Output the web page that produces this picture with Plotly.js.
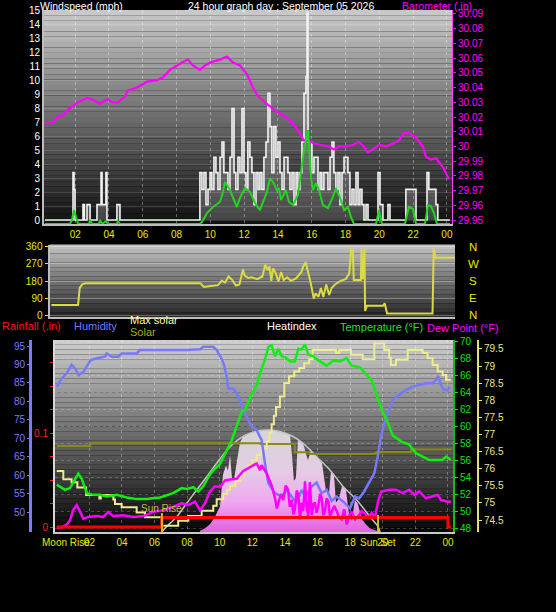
<!DOCTYPE html>
<html><head><meta charset="utf-8">
<script src="https://cdn.plot.ly/plotly-3.0.1.min.js"></script>
<style>html,body{margin:0;padding:0;background:#000;overflow:hidden}#chart{width:556px;height:612px}</style>
</head><body><div id="chart"></div>
<script>
// ================= DATA (hours of the day) =================
const hourTicks = [2,4,6,8,10,12,14,16,18,20,22,24];
const hourTickText = ['02','04','06','08','10','12','14','16','18','20','22','00'];
const humidityTicks = [50,55,60,65,70,75,80,85,90,95];

// Top panel: barometer (in), gust & average wind speed (mph)
const baroReadings = [[0.21,30.016],[0.69,30.016],[0.98,30.021],[1.28,30.021],[1.57,30.025],[1.81,30.027],[2.17,30.030],[2.70,30.033],[3.00,30.032],[3.47,30.029],[3.88,30.032],[4.24,30.030],[4.53,30.030],[4.95,30.034],[5.12,30.038],[5.66,30.040],[6.25,30.044],[6.84,30.045],[7.20,30.047],[7.61,30.052],[8.02,30.055],[8.32,30.057],[8.67,30.059],[8.97,30.055],[9.38,30.052],[9.68,30.055],[9.98,30.057],[10.57,30.059],[10.98,30.061],[11.34,30.057],[11.75,30.055],[12.17,30.049],[12.52,30.040],[12.82,30.034],[13.23,30.030],[13.65,30.026],[14.00,30.023],[14.47,30.020],[14.77,30.017],[15.07,30.013],[15.36,30.008],[15.54,30.004],[15.83,30.004],[16.13,30.002],[16.54,30.001],[17.02,30.000],[17.31,29.998],[17.61,30.000],[18.02,30.000],[18.43,30.001],[18.79,30.003],[19.08,30.000],[19.32,29.996],[19.62,29.998],[19.97,30.001],[20.39,30.000],[20.80,30.002],[21.16,30.004],[21.45,30.009],[21.75,30.009],[22.16,30.006],[22.58,30.000],[22.76,29.993],[23.05,29.991],[23.35,29.992],[23.53,29.989],[23.82,29.985],[24.06,29.979],[24.12,29.978]];

const gustReadings = [[0.21,0],[1.81,0],[1.87,3.4],[1.93,2.2],[1.99,0],[2.46,1.1],[2.55,0],[2.70,1.1],[2.88,0],[3.29,1.1],[3.53,3.4],[3.59,1.1],[3.82,3.4],[3.88,0],[4.47,1.1],[4.65,0],
[9.38,3.4],[9.50,2.2],[9.62,3.4],[9.74,1.1],[9.86,2.2],[9.98,3.4],[10.09,2.2],[10.21,4.5],[10.33,3.4],[10.45,2.2],[10.57,4.5],[10.69,5.6],[10.80,3.4],[10.92,3.4],[11.04,2.2],[11.16,4.5],[11.28,8.0],[11.40,3.4],[11.51,2.2],[11.63,4.5],[11.75,3.4],[11.87,8.0],[11.99,3.4],[12.11,2.2],[12.22,5.6],[12.34,4.5],[12.46,3.4],[12.58,1.1],[12.70,3.4],[12.82,2.2],[12.93,3.4],[13.05,2.2],[13.17,4.5],[13.29,5.6],[13.41,9.1],[13.53,6.7],[13.64,3.4],[13.76,6.7],[13.88,4.5],[14.00,5.6],[14.12,3.4],[14.24,2.2],[14.36,4.5],[14.47,4.5],[14.59,3.4],[14.71,2.2],[14.83,3.4],[14.95,1.1],[15.07,3.4],[15.18,2.2],[15.30,3.4],[15.42,5.6],[15.54,9.1],[15.66,10.3],[15.72,14.9],[15.78,5.6],[15.89,5.6],[16.01,3.4],[16.13,4.5],[16.25,4.5],[16.37,2.2],[16.49,3.4],[16.60,2.2],[16.72,3.4],[16.84,3.4],[16.96,2.2],[17.08,4.5],[17.20,5.6],[17.31,3.4],[17.43,2.2],[17.55,3.4],[17.67,1.1],[17.79,3.4],[17.91,4.5],[18.02,4.5],[18.14,3.4],[18.26,1.1],[18.38,2.2],[18.50,1.1],[18.62,3.4],[18.74,1.1],[18.85,2.2],[18.97,1.1],[19.09,0],[19.21,1.1],[19.33,0],[19.92,3.4],[20.04,1.1],[20.21,0],[20.51,1.1],[20.63,0],[21.57,2.2],[21.93,2.2],[22.17,0],[22.82,3.4],[22.93,2.2],[23.35,1.1],[23.46,0],[24.18,0]];

const windAvgReadings = [[0.21,0],[1.69,0],[1.81,0.3],[1.93,1.0],[2.05,0.5],[2.17,0],[2.82,0],[2.88,0.3],[2.99,0],[3.41,0],[3.47,0.3],[3.59,0],[3.82,0.2],[3.94,0],[4.47,0],[4.53,0.2],[4.65,0],[9.38,0],[9.50,0.14],[9.80,0.79],[10.15,1.22],[10.57,1.58],[10.75,2.30],[10.86,3.02],[11.16,2.44],[11.34,1.94],[11.57,1.22],[11.75,1.87],[12.05,2.58],[12.34,2.30],[12.64,1.51],[12.93,1.0],[13.11,1.51],[13.35,2.30],[13.53,3.30],[13.70,3.02],[13.94,2.44],[14.06,2.58],[14.18,1.72],[14.47,2.44],[14.65,1.58],[14.89,1.36],[15.18,2.08],[15.36,3.52],[15.54,5.31],[15.78,6.75],[15.83,5.81],[15.95,3.37],[16.07,2.44],[16.25,2.94],[16.43,2.44],[16.66,1.36],[16.96,1.15],[17.25,1.94],[17.43,2.58],[17.73,1.72],[17.91,1.0],[18.14,1.22],[18.32,0.5],[18.50,0],[19.80,0],[19.98,1.0],[20.15,0],[21.51,0],[21.75,1.22],[21.99,1.08],[22.17,0],[22.70,0],[22.88,1.36],[23.05,1.29],[23.23,0.79],[23.41,0],[24.18,0]];

// Middle panel: wind direction (degrees)
const windDirReadings = [[0.28,53],[1.86,53],[1.96,143],[2.11,162],[2.28,168],[9.10,168],[9.31,149],[9.83,153],[10.15,158],[10.36,181],[10.56,172],[10.77,204],[10.99,185],[11.20,156],[11.41,162],[11.62,241],[11.72,209],[11.93,196],[12.14,200],[12.46,190],[12.77,204],[12.94,266],[13.08,238],[13.19,256],[13.30,181],[13.40,247],[13.57,219],[13.72,177],[13.88,228],[14.03,185],[14.24,200],[14.45,181],[14.76,194],[15.08,228],[15.18,256],[15.33,279],[15.46,238],[15.60,181],[15.71,134],[15.81,87],[15.92,115],[16.09,96],[16.23,143],[16.38,96],[16.55,162],[16.72,106],[16.87,143],[17.07,162],[17.39,181],[17.70,190],[17.91,219],[18.02,347],[18.12,341],[18.18,185],[18.60,185],[18.64,351],[18.71,190],[18.81,351],[18.85,21],[18.96,49],[19.91,49],[20.01,62],[20.15,8],[22.84,8],[22.91,351],[23.02,303],[24.17,303]];

// Bottom panel
const humidityReadings = [[0.0,84.0],[0.30,86.2],[0.61,87.6],[0.91,89.9],[1.12,88.9],[1.36,87.1],[1.63,88.0],[1.87,89.6],[2.08,91.2],[2.45,91.7],[2.96,92.1],[3.06,93.0],[3.37,92.1],[3.77,92.1],[3.98,93.0],[4.90,93.0],[5.10,93.9],[7.97,93.9],[8.79,94.1],[8.99,94.8],[9.60,94.8],[9.81,93.9],[10.12,91.5],[10.26,89.9],[10.42,86.7],[10.52,83.5],[10.83,83.5],[11.04,82.2],[11.24,80.4],[11.44,77.7],[11.65,75.8],[11.96,73.1],[12.26,72.2],[12.57,69.5],[12.77,63.2],[12.98,57.8],[13.39,55.1],[13.80,54.2],[14.10,56.0],[14.41,54.2],[14.72,52.4],[15.02,56.0],[15.23,54.2],[15.64,56.9],[15.94,58.0],[16.25,55.1],[16.56,56.0],[16.87,53.0],[17.17,54.2],[17.58,52.8],[17.99,51.0],[18.30,54.2],[18.55,53.7],[18.85,55.5],[19.27,58.7],[19.48,60.5],[19.69,65.0],[19.89,70.4],[20.20,75.8],[20.40,77.7],[20.61,80.4],[21.01,81.7],[21.42,83.1],[21.83,84.0],[22.24,84.4],[22.65,84.9],[23.06,84.9],[23.26,85.8],[23.40,86.9],[23.57,84.4],[23.77,83.1],[23.98,83.1],[24.12,84.0]];

const temperatureReadings = [[0.0,53.1],[0.50,52.5],[0.81,52.7],[1.12,53.8],[1.32,54.4],[1.53,53.8],[1.84,52.1],[2.24,51.9],[2.65,51.9],[3.06,51.7],[3.68,51.9],[4.29,51.6],[4.90,51.4],[5.51,51.4],[6.33,51.6],[7.15,52.1],[7.66,52.7],[7.97,52.6],[8.38,52.8],[8.68,52.3],[8.99,52.9],[9.30,54.0],[9.60,54.8],[10.01,55.5],[10.42,57.2],[10.73,58.3],[11.04,60.0],[11.35,61.7],[11.55,61.9],[11.96,63.8],[12.26,64.8],[12.47,66.2],[12.77,67.8],[12.98,69.3],[13.18,69.5],[13.39,68.2],[13.59,69.1],[13.80,68.2],[14.10,68.0],[14.31,67.6],[14.61,67.6],[14.82,69.1],[15.02,69.0],[15.23,69.6],[15.43,68.4],[15.74,68.2],[16.15,67.6],[16.56,67.1],[16.97,67.7],[17.37,67.6],[17.78,68.0],[18.09,67.1],[18.60,66.9],[18.91,66.2],[19.32,65.4],[19.63,63.6],[19.93,61.9],[20.25,60.7],[20.40,59.9],[20.61,58.9],[21.12,58.2],[21.63,57.8],[22.04,56.8],[22.45,56.4],[22.86,56.0],[23.26,56.0],[23.67,56.0],[23.88,56.4],[24.18,56.0]];

const dewPointReadings = [[0.0,48.0],[0.30,48.1],[0.61,48.4],[0.81,48.9],[1.00,50.1],[1.22,50.7],[1.38,50.1],[1.63,49.1],[1.93,49.3],[2.45,49.4],[2.85,49.3],[3.16,49.9],[3.47,49.4],[4.08,49.5],[4.69,49.3],[5.31,49.4],[5.92,49.9],[6.53,50.1],[7.15,50.5],[7.66,50.9],[8.07,50.7],[8.48,51.1],[8.79,50.1],[9.09,50.9],[9.40,52.3],[9.71,52.9],[10.01,52.8],[10.32,53.6],[10.63,53.7],[11.04,53.8],[11.44,54.7],[11.86,55.2],[12.26,55.6],[12.47,54.8],[12.57,55.4],[12.88,54.4],[13.18,53.0],[13.39,51.5],[13.50,50.3],[13.59,50.9],[13.75,52.0],[13.90,51.3],[14.05,53.0],[14.19,52.5],[14.30,50.5],[14.41,51.3],[14.52,49.6],[14.61,50.2],[14.72,52.4],[14.82,52.0],[14.92,49.0],[15.02,51.0],[15.12,50.0],[15.23,53.5],[15.33,50.5],[15.43,49.4],[15.53,53.4],[15.64,49.5],[15.74,50.8],[15.84,51.0],[15.94,49.8],[16.04,50.5],[16.15,52.0],[16.25,51.5],[16.35,49.5],[16.45,50.0],[16.56,51.5],[16.66,51.1],[16.76,49.4],[16.87,49.9],[17.02,50.6],[17.17,50.0],[17.33,49.2],[17.48,49.0],[17.63,50.2],[17.79,48.4],[17.94,49.5],[18.09,49.9],[18.30,49.0],[18.50,49.4],[18.70,50.0],[18.91,49.7],[19.10,49.2],[19.32,49.8],[19.53,49.3],[19.73,51.3],[19.90,52.3],[20.40,52.5],[20.81,52.5],[21.22,52.1],[21.63,52.5],[21.94,51.9],[22.24,52.3],[22.65,51.5],[23.06,51.7],[23.37,51.9],[23.57,51.3],[23.98,51.1],[24.18,51.1]];

const heatIndexReadings = [[0.0,75.93],[0.40,75.69],[0.91,75.6],[1.26,75.45],[1.80,75.23],[2.61,75.13],[2.70,75.23],[3.47,75.1],[3.57,74.97],[3.98,74.87],[4.90,74.72],[5.41,74.58],[6.44,74.33],[7.45,74.48],[8.07,74.62],[8.89,74.77],[9.60,74.92],[9.81,75.11],[10.21,75.26],[10.45,75.38],[10.63,75.5],[10.95,75.65],[11.24,75.79],[11.50,75.95],[11.75,76.1],[12.00,76.25],[12.26,76.4],[12.55,76.6],[12.88,76.8],[13.05,77.05],[13.18,77.3],[13.32,77.55],[13.45,77.8],[13.69,78.11],[13.96,78.5],[14.25,78.7],[14.57,78.84],[14.88,78.94],[15.18,79.08],[15.49,79.2],[15.70,79.47],[17.13,79.38],[17.33,79.47],[18.05,79.33],[18.77,79.2],[19.48,79.66],[20.09,79.47],[20.40,79.23],[20.50,79.03],[20.81,79.18],[21.53,79.47],[22.45,79.38],[22.75,79.23],[23.06,79.03],[23.37,78.84],[23.67,78.74],[23.88,78.6],[24.18,78.6]];

const solarLineReadings = [[0.0,76.66],[2.04,76.66],[2.05,76.74],[12.5,76.72],[14.6,76.48],[15.5,76.43],[19.5,76.45],[19.6,76.49],[21.7,76.49],[21.75,76.56],[24.18,76.58]];

const maxSolarReadings = [[6.45,0],[6.64,29],[7.36,120],[7.97,224],[8.58,328],[9.20,432],[9.81,537],[10.63,666],[11.24,732],[11.85,771],[12.47,793],[13.08,797],[13.69,785],[14.31,758],[15.12,693],[15.94,588],[16.76,484],[17.58,354],[18.40,250],[19.21,120],[19.72,41],[19.83,0]];

const solarReadings = [[8.79,10],[9.09,30],[9.40,60],[9.71,120],[10.01,200],[10.20,450],[10.38,520],[10.50,480],[10.63,600],[10.75,420],[10.86,400],[11.04,560],[11.24,700],[11.42,740],[11.85,771],[12.47,793],[13.08,797],[13.69,785],[14.31,758],[14.43,600],[14.55,400],[14.67,420],[14.80,720],[15.10,695],[15.41,560],[15.60,640],[15.91,590],[16.27,540],[16.52,320],[16.70,300],[16.82,470],[17.01,440],[17.13,230],[17.31,260],[17.50,360],[17.74,330],[17.92,150],[18.11,90],[18.29,250],[18.47,220],[18.72,100],[18.96,60],[19.21,30],[19.58,10],[19.83,0]];

const rainReadings = [[0.0,0],[6.45,0.01],[24.0,0],[24.18,0]];

const sunRiseHour = 6.45, sunSetHour = 19.71, moonRiseHour = 0.56;

// ================= CHART =================
const FONT = 'Liberation Sans, Arial, sans-serif';
const YEL = '#e8e800';
const xs = a => a.map(p => p[0]);
const ys = a => a.map(p => p[1]);

function bands(x0, x1, y0, y1, cTop, cBot, n) {
  const out = [];
  for (let i = 0; i < n; i++) {
    const t = i / (n - 1);
    const c = cTop.map((v, k) => Math.round(v + (cBot[k] - v) * t));
    out.push({type:'rect', xref:'paper', yref:'paper', layer:'below',
      x0:x0/556, x1:x1/556,
      y0:1-(y0+(y1-y0)*i/n)/612, y1:1-(y0+(y1-y0)*(i+1)/n)/612,
      fillcolor:'rgb('+c.join(',')+')', line:{width:0}});
  }
  return out;
}

const traces = [
  {x:xs(gustReadings), y:ys(gustReadings), xaxis:'x', yaxis:'y', mode:'lines', line:{color:'#f2f2f2', width:1.6, shape:'hv'}, fill:'tozeroy', fillcolor:'rgba(255,255,255,0.22)'},
  {x:xs(baroReadings), y:ys(baroReadings), xaxis:'x', yaxis:'y2', mode:'lines', line:{color:'#ff00ff', width:2.2}},
  {x:xs(windAvgReadings), y:ys(windAvgReadings), xaxis:'x', yaxis:'y3', mode:'lines', line:{color:'#22d422', width:2}},
  {x:xs(windDirReadings), y:ys(windDirReadings), xaxis:'x2', yaxis:'y4', mode:'lines', line:{color:'#dada44', width:2}},
  {x:xs(solarReadings), y:ys(solarReadings), xaxis:'x3', yaxis:'y5', mode:'lines', line:{width:0, color:'rgba(0,0,0,0)'}, fill:'tozeroy', fillcolor:'#eeaaee',
    fillgradient:{type:'vertical', start:0, stop:800, colorscale:[[0,'#e060e0'],[0.3,'#f0a8f0'],[0.6,'#e4cce4'],[1,'#d6d6d6']]}},
  {x:xs(maxSolarReadings), y:ys(maxSolarReadings), xaxis:'x3', yaxis:'y5', mode:'lines', line:{color:'#c4c4c4', width:1.5, shape:'spline'}},
  {x:xs(solarLineReadings), y:ys(solarLineReadings), xaxis:'x3', yaxis:'y6', mode:'lines', line:{color:'#8a8a14', width:2, shape:'hv'}},
  {x:xs(heatIndexReadings), y:ys(heatIndexReadings), xaxis:'x3', yaxis:'y6', mode:'lines', line:{color:'#ecec90', width:2, shape:'hv'}},
  {x:xs(humidityReadings), y:ys(humidityReadings), xaxis:'x3', yaxis:'y7', mode:'lines', line:{color:'#7878ff', width:2.5}},
  {x:xs(temperatureReadings), y:ys(temperatureReadings), xaxis:'x3', yaxis:'y8', mode:'lines', line:{color:'#10ee10', width:2.5}},
  {x:xs(dewPointReadings), y:ys(dewPointReadings), xaxis:'x3', yaxis:'y8', mode:'lines', line:{color:'#ff00ff', width:2.5}},
  {x:xs(rainReadings), y:ys(rainReadings), xaxis:'x3', yaxis:'y9', mode:'lines', line:{color:'#ff0000', width:3, shape:'hv'}}
];

const common = {zeroline:false, fixedrange:true};
const layout = {
  width:556, height:612, margin:{l:0,r:0,t:0,b:0,pad:0},
  paper_bgcolor:'#000000', plot_bgcolor:'rgba(0,0,0,0)', showlegend:false,
  font:{family:FONT, size:10, color:'#ffffff'},
  xaxis:Object.assign({domain:[44/556,452/556], range:[0.154,24.30], anchor:'y', tickmode:'array', tickvals:hourTicks, ticktext:hourTickText, tickfont:{color:YEL,size:10}, ticks:'', showgrid:true, gridcolor:'rgba(255,255,255,0.35)', griddash:'dot', showline:true, linecolor:'#bdbdbd', linewidth:2}, common),
  yaxis:Object.assign({domain:[1-224/612,1-10/612], range:[-0.287,15.07], anchor:'x', dtick:1, tick0:0, tickfont:{color:'#ffffff',size:10}, ticks:'', showgrid:true, gridcolor:'rgba(255,255,255,0.14)', showline:true, linecolor:'#bdbdbd', linewidth:2}, common),
  yaxis2:Object.assign({overlaying:'y', side:'right', anchor:'x', range:[29.9473,30.0927], dtick:0.01, tick0:29.95, tickfont:{color:'#ff00ff',size:10}, ticks:'outside', ticklen:3, tickcolor:'#ff00ff', showline:true, linecolor:'#ff44ff', linewidth:1, showgrid:false}, common),
  yaxis3:{overlaying:'y', range:[0,15.36], visible:false, fixedrange:true},
  xaxis2:Object.assign({domain:[49.5/556,455/556], range:[0.17,24.17], anchor:'y4', showticklabels:false, ticks:'', showgrid:false, showline:true, linecolor:'#bdbdbd', linewidth:2}, common),
  yaxis4:Object.assign({domain:[1-317/612,1-244.5/612], range:[-10.6,373.2], anchor:'x2', tickmode:'array', tickvals:[0,90,180,270,360], tickfont:{color:YEL,size:10}, ticks:'outside', ticklen:3, tickcolor:YEL, showgrid:true, gridcolor:'rgba(255,255,255,0.3)', showline:true, linecolor:'#bdbdbd', linewidth:2}, common),
  xaxis3:Object.assign({domain:[55/556,453/556], range:[-0.11,24.31], anchor:'y5', tickmode:'array', tickvals:hourTicks, ticktext:hourTickText, tickfont:{color:YEL,size:10}, ticks:'', showgrid:true, gridcolor:'rgba(255,255,255,0.3)', griddash:'dot', showline:true, linecolor:'#c8c8c8', linewidth:2}, common),
  yaxis5:{domain:[1-532/612,1-340/612], range:[0,1500], anchor:'x3', visible:false, fixedrange:true},
  yaxis6:Object.assign({overlaying:'y5', anchor:'free', position:478/556, side:'right', range:[74.15,79.76], dtick:0.5, tick0:74.5, tickfont:{color:'#e8e890',size:10}, ticks:'outside', ticklen:3, tickcolor:'#e8e890', showline:true, linecolor:'#e0e070', linewidth:2, showgrid:false}, common),
  yaxis7:Object.assign({overlaying:'y5', anchor:'free', position:30/556, side:'left', range:[44.58,96.63], tickmode:'array', tickvals:humidityTicks, tickfont:{color:'#7b7bff',size:10}, ticks:'outside', ticklen:2, tickcolor:'#7b7bff', showline:true, linecolor:'#7b7bff', linewidth:3, showgrid:false}, common),
  yaxis8:Object.assign({overlaying:'y5', anchor:'x3', side:'right', range:[47.53,70.12], dtick:2, tick0:48, tickfont:{color:'#10e010',size:10}, ticks:'outside', ticklen:3, tickcolor:'#10e010', showline:true, linecolor:'#10c010', linewidth:2, showgrid:true, gridcolor:'rgba(255,255,255,0.2)', griddash:'dot'}, common),
  yaxis9:Object.assign({overlaying:'y5', anchor:'x3', side:'left', range:[-0.0053,0.199], dtick:0.1, tick0:0, tickfont:{color:'#ff2020',size:10}, ticks:'outside', ticklen:3, tickcolor:'#ff2020', minor:{dtick:0.025, tick0:0, ticks:'outside', ticklen:3, tickcolor:'#ff2020', showgrid:false}, showline:true, linecolor:'#d8d8d8', linewidth:2, showgrid:false}, common),
  shapes: [].concat(
    bands(44,452,10,224,[200,200,200],[18,18,18],40),
    bands(49.5,455,244.5,317,[192,192,192],[40,40,40],16),
    bands(55,453,340,532,[204,204,204],[8,8,8],40),
    [
      {type:'line', xref:'x3', yref:'paper', x0:sunRiseHour, x1:sunRiseHour, y0:1-532/612, y1:1-513/612, line:{color:'#e8b400', width:2}},
      {type:'line', xref:'x3', yref:'paper', x0:sunSetHour, x1:sunSetHour, y0:1-532/612, y1:1-515/612, line:{color:'#d8c000', width:2}}
    ]),
  annotations: [
    {text:'Windspeed (mph)', x:38/556, y:1-6.5/612, color:'#ffffff', size:10.5},
    {text:'24 hour graph day : September 05 2026', x:186/556, y:1-6.5/612, color:'#ffffff', size:10.5},
    {text:'Barometer (.in)', x:400/556, y:1-6.5/612, color:'#ff00ff', size:10.5},
    {text:'Rainfall (.in)', x:0, y:1-326/612, color:'#ff1010', size:11},
    {text:'Humidity', x:72/556, y:1-326/612, color:'#7878ff', size:11},
    {text:'Max solar', x:128/556, y:1-320/612, color:'#ffff99', size:11},
    {text:'Solar', x:128/556, y:1-332/612, color:'#a8a828', size:11},
    {text:'Heatindex', x:265/556, y:1-326/612, color:'#ffffff', size:11},
    {text:'Temperature (°F)', x:338/556, y:1-327/612, color:'#22e022', size:11},
    {text:'Dew Point (°F)', x:425/556, y:1-327.5/612, color:'#ff00ff', size:11}
  ].map(a => ({text:a.text, xref:'paper', yref:'paper', x:a.x, y:a.y, xanchor:'left', yanchor:'middle', showarrow:false, font:{family:FONT, size:a.size, color:a.color}}))
  .concat(['N','W','S','E','N'].map((t,i) => ({text:t, xref:'paper', yref:'y4', x:473/556, y:360-90*i, xanchor:'center', yanchor:'middle', showarrow:false, font:{family:FONT, size:11.5, color:YEL}})))
  .concat([
    {text:'Sun Rise', xref:'x3', yref:'paper', x:sunRiseHour, y:1-508/612, xanchor:'center', yanchor:'middle', showarrow:false, font:{family:FONT, size:10, color:'#c8b848'}},
    {text:'Moon Rise', xref:'x3', yref:'paper', x:moonRiseHour, y:1-542/612, xanchor:'center', yanchor:'middle', showarrow:false, font:{family:FONT, size:10, color:YEL}},
    {text:'Sun Set', xref:'x3', yref:'paper', x:sunSetHour, y:1-542/612, xanchor:'center', yanchor:'middle', showarrow:false, font:{family:FONT, size:10, color:YEL}}
  ])
};

Plotly.newPlot('chart', traces, layout, {staticPlot:true, displayModeBar:false});
</script></body></html>
